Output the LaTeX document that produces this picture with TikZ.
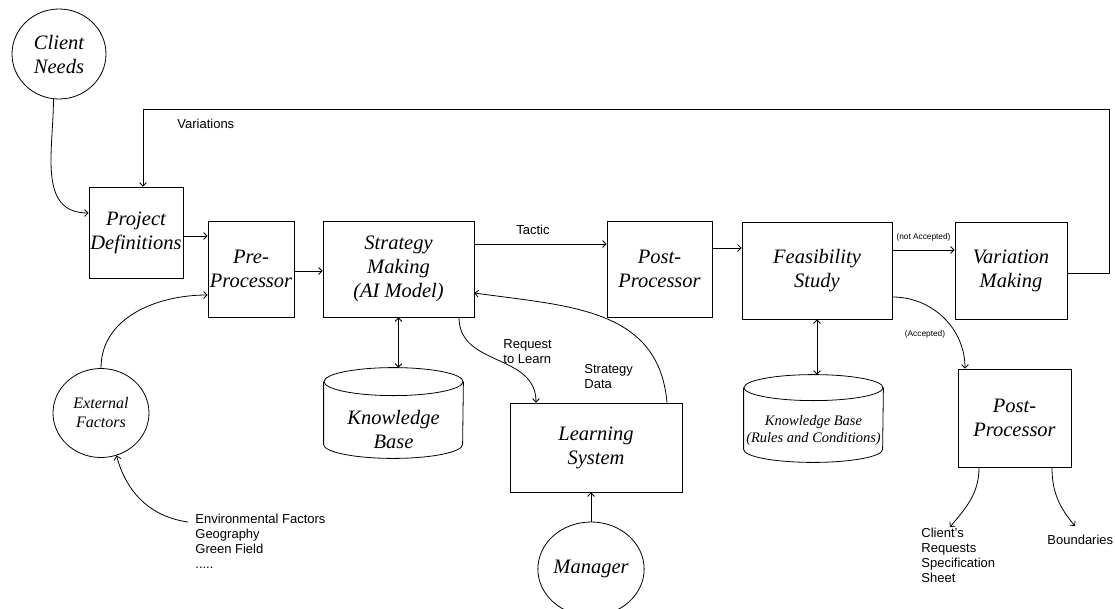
\documentclass[tikz,border=0pt]{standalone}
\usepackage{fontspec}
\setmainfont{Liberation Serif}
\setsansfont{Liberation Sans}
\usetikzlibrary{arrows.meta,shapes.geometric}
\begin{document}
\begin{tikzpicture}[x=1pt,y=1pt,line width=0.8pt,
  box/.style={draw,rectangle,inner sep=0pt,align=center,font=\itshape\fontsize{20.5}{24}\selectfont},
  circ/.style={draw,ellipse,inner sep=0pt,align=center},
  big/.style={font=\itshape\fontsize{20.5}{24}\selectfont},
  lbl/.style={inner sep=0pt,align=left,font=\sffamily\fontsize{13}{15}\selectfont},
  small/.style={inner sep=0pt,font=\sffamily\fontsize{8.3}{10}\selectfont},
  arr/.style={-{Straight Barb[length=3.5pt,width=7pt]}},
  darr/.style={{Straight Barb[length=3.5pt,width=7pt]}-{Straight Barb[length=3.5pt,width=7pt]}}]
\clip (0,0) rectangle (1115,-608);
\fill[white] (0,0) rectangle (1115,-608);

% main boxes
\node[box,minimum width=94,minimum height=91] (pd) at (136,-232.5) {Project\\Definitions};
\node[box,minimum width=86,minimum height=96] (pre) at (251,-269) {Pre-\\Processor};
\node[box,minimum width=151,minimum height=96] (sm) at (398.5,-269) {Strategy\\Making\\(AI Model)};
\node[box,minimum width=105,minimum height=96] (pp1) at (659.5,-269) {Post-\\Processor};
\node[box,minimum width=150,minimum height=97] (fs) at (817,-270.5) {Feasibility\\Study};
\node[box,minimum width=112,minimum height=97] (vm) at (1011,-270.5) {Variation\\Making};
\node[box,minimum width=113,minimum height=98] (pp2) at (1014.5,-418) {Post-\\Processor};
\node[box,minimum width=172,minimum height=89] (ls) at (596,-447.5) {Learning\\System};

% circles
\node[circ,minimum width=94,minimum height=90,big] (cn) at (59,-54) {Client\\Needs};
\node[circ,minimum width=96,minimum height=89,font=\itshape\fontsize{16}{19}\selectfont] (ef) at (101,-413) {External\\Factors};
\node[circ,minimum width=94,minimum height=94,big] (mg) at (591,-569) {Manager};

% cylinders
\node[inner sep=0pt,minimum width=139,minimum height=90] (kb1) at (393.5,-413) {};
\draw ([yshift=-14pt]kb1.north) ellipse[x radius=69.5pt,y radius=14pt];
\draw ([yshift=-14pt]kb1.north west) -- ([yshift=14pt]kb1.south west)
  arc[start angle=180,end angle=360,x radius=69.5pt,y radius=14pt] -- ([yshift=-14pt]kb1.north east);
\node[big,align=center,inner sep=0pt] (kb1t) at (393.5,-429) {Knowledge\\Base};

\node[inner sep=0pt,minimum width=139,minimum height=87] (kb2) at (813.5,-418.5) {};
\draw ([yshift=-13pt]kb2.north) ellipse[x radius=69.5pt,y radius=13pt];
\draw ([yshift=-13pt]kb2.north west) -- ([yshift=13pt]kb2.south west)
  arc[start angle=180,end angle=360,x radius=69.5pt,y radius=13pt] -- ([yshift=-13pt]kb2.north east);
\node[align=center,inner sep=0pt,font=\itshape\fontsize{14.5}{17}\selectfont] (kb2t) at (813.5,-431) {Knowledge Base\\(Rules and Conditions)};

% text labels
\node[lbl,anchor=west] (var) at (177,-124) {Variations};
\node[lbl] (tac) at (533,-230) {Tactic};
\node[lbl,anchor=west] (rtl) at (503,-352) {Request\\to Learn};
\node[lbl,anchor=west] (sdl) at (584,-377) {Strategy\\Data};
\node[small] (nacc) at (923.5,-237) {(not Accepted)};
\node[small] (acc) at (925,-334) {(Accepted)};
\node[lbl,anchor=north west] (env) at (195,-514) {Environmental Factors\\Geography\\Green Field\\.....};
\node[lbl,anchor=north west] (crs) at (921,-528) {Client's\\Requests\\Specification\\Sheet};
\node[lbl,anchor=west] (bnd) at (1047,-540) {Boundaries};

% connectors
\draw[arr] (cn.-97) to[out=-90,in=180,looseness=1.1] ([yshift=19.5pt]pd.west);
\draw[arr] ([yshift=-3.5pt]pd.east) -- ([yshift=-3.5pt]pd.east -| pre.west);
\draw[arr] ([yshift=-2pt]pre.east) -- ([yshift=-2pt]pre.east -| sm.west);
\draw[arr] (ef.north) to[out=90,in=180] ([yshift=-26pt]pre.west);
\draw[arr] ([yshift=25pt]sm.east) -- ([yshift=25pt]sm.east -| pp1.west);
\draw[darr] (sm.south) -- (sm.south |- kb1.north);
\draw[arr] ([xshift=60.5pt]sm.south) to[out=-90,in=90,looseness=1.1] ([xshift=-60pt]ls.north);
\draw[arr] ([xshift=71pt]ls.north) to[out=95,in=-8,looseness=1.1] ([yshift=-24pt]sm.east);
\draw[arr] ([yshift=21pt]pp1.east) -- ([yshift=21pt]pp1.east -| fs.west);
\draw[arr] ([yshift=20.5pt]fs.east) -- ([yshift=20.5pt]fs.east -| vm.west);
\draw[arr] ([yshift=-26.5pt]fs.east) to[out=0,in=90] ([xshift=-49.5pt]pp2.north);
\draw[darr] (fs.south) -- (fs.south |- kb2.north);
\draw[arr] (mg.north) -- (mg.north |- ls.south);
\coordinate (envs) at (188,-522);
\draw[arr] (envs) to[out=172,in=-75] (ef.-70);
\coordinate (crse) at (950,-527);
\coordinate (bnde) at (1075,-526);
\draw[arr] ([xshift=-35.5pt]pp2.south) to[out=-90,in=50] (crse);
\draw[arr] ([xshift=37.5pt]pp2.south) to[out=-90,in=130] (bnde);
\coordinate (fb1) at (1109,-109);
\coordinate (fb2) at (143,-109);
\draw[arr] ([yshift=-2.5pt]vm.east) -| (fb1) -- (fb2) -- (fb2 |- pd.north);
\end{tikzpicture}
\end{document}
